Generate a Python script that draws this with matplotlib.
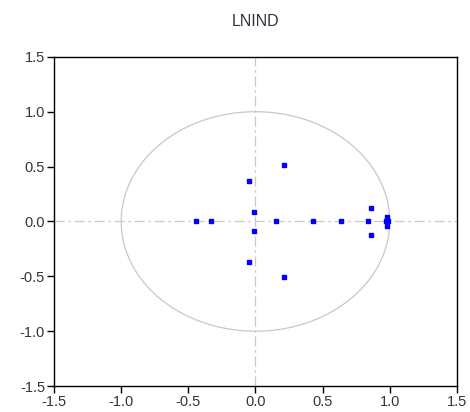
import matplotlib.pyplot as plt
import numpy as np

plt.rcParams['font.family'] = ['Liberation Sans', 'DejaVu Sans']

# inverse roots of the AR characteristic polynomial
root_re = [-0.44, -0.33, -0.01, -0.01, -0.05, -0.05, 0.15, 0.21, 0.21,
           0.43, 0.64, 0.84, 0.86, 0.86, 0.98, 0.98, 0.99, 0.97]
root_im = [0.0, 0.0, 0.09, -0.09, 0.37, -0.37, 0.0, 0.51, -0.51,
           0.0, 0.0, 0.0, 0.12, -0.12, 0.04, -0.04, 0.0, 0.0]
ticks = [-1.5, -1.0, -0.5, 0.0, 0.5, 1.0, 1.5]

fig = plt.figure(figsize=(4.7, 4.12), dpi=100)
ax = fig.add_axes([0.115, 0.063, 0.857, 0.799])

# unit circle and zero lines
t = np.linspace(0, 2 * np.pi, 400)
ax.plot(np.cos(t), np.sin(t), color='#c8c8c8', lw=0.9, zorder=1)
ax.axhline(0, color='#c8c8c8', lw=0.9, ls=(0, (8, 3, 2, 3)), zorder=1)
ax.axvline(0, color='#c8c8c8', lw=0.9, ls=(0, (8, 3, 2, 3)), zorder=1)

ax.plot(root_re, root_im, 's', color='#0000ff', ms=3.4, mec='#0000ff', zorder=3)

ax.set_xlim(-1.5, 1.5)
ax.set_ylim(-1.5, 1.5)
ax.set_xticks(ticks)
ax.set_yticks(ticks)
ax.set_xticklabels(['%.1f' % v for v in ticks])
ax.set_yticklabels(['%.1f' % v for v in ticks])
ax.tick_params(direction='out', length=5, width=1, labelsize=10.5,
               labelcolor='#3a3040', top=False, right=False, pad=1.5)
for s in ax.spines.values():
    s.set_linewidth(1)
    s.set_color('black')

ax.set_title('LNIND', fontsize=11.5, color='#3a3040', pad=22)

fig.savefig('out.png', dpi=100)
